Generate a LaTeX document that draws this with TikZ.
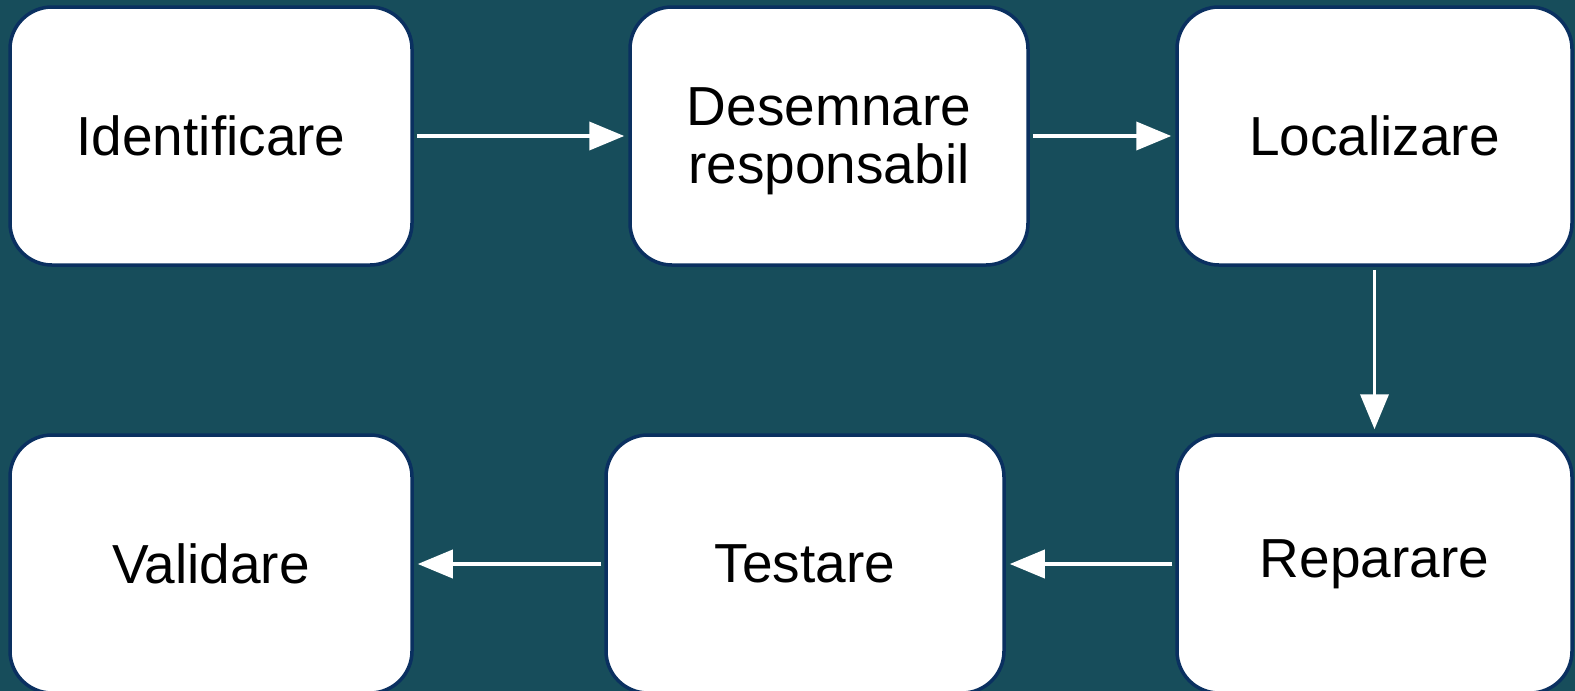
\documentclass[tikz,border=0pt]{standalone}
\usepackage{fontspec}
\setmainfont{Liberation Sans}
\usetikzlibrary{arrows.meta}
\definecolor{bgteal}{RGB}{23,77,91}
\definecolor{boxedge}{RGB}{10,48,96}
\begin{document}
\begin{tikzpicture}[x=1pt,y=-1pt,
  stepbox/.style={draw=boxedge, line width=3.5pt, fill=white, rounded corners=42pt,
    minimum height=258pt, align=center, inner sep=0pt,
    font=\fontsize{55}{58}\selectfont, text=black},
  flow/.style={draw=white, line width=3.8pt,
    -{Triangle[length=35pt,width=28pt]}, shorten <=3pt, shorten >=4pt}]
  % page and backdrop
  \fill[bgteal] (0,0) rectangle (1575,691);
  \useasboundingbox (0,0) rectangle (1575,691);
  % top row
  \node[stepbox, minimum width=402pt] (ident) at (211,136) {Identificare};
  \node[stepbox, minimum width=398pt] (desem) at (829,136)
    {\raisebox{-7pt}[\height][\depth]{\begin{tabular}{@{}c@{}}Desemnare\\responsabil\end{tabular}}};
  \node[stepbox, minimum width=395pt] (local) at (1374.5,136) {Localizare};
  % bottom row
  \node[stepbox, minimum width=402pt] (valid) at (211,564) {Validare};
  \node[stepbox, minimum width=398pt] (test) at (805,564) {Testare};
  \node[stepbox, minimum width=395pt] (repar) at (1374.5,564) {Reparare};
  % connectors
  \draw[flow] (ident.east) -- (desem.west);
  \draw[flow] (desem.east) -- (local.west);
  \draw[flow] (local.south) -- (repar.north);
  \draw[flow] (repar.west) -- (test.east);
  \draw[flow] (test.west) -- (valid.east);
\end{tikzpicture}
\end{document}
